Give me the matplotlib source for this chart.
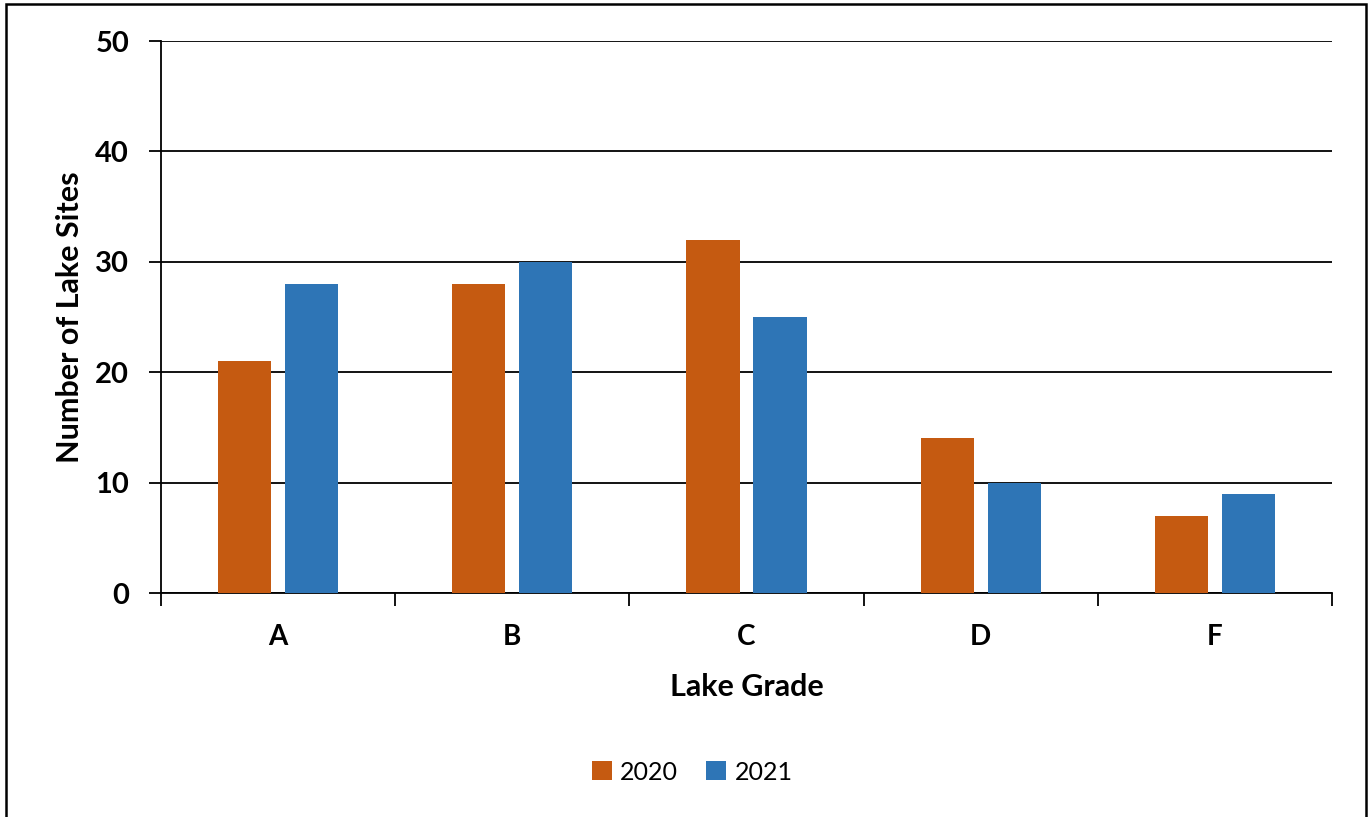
import matplotlib
matplotlib.use("Agg")
import matplotlib.pyplot as plt
import numpy as np
from matplotlib.patches import Rectangle
from matplotlib.ticker import FixedLocator

categories = ["A", "B", "C", "D", "F"]
series_names = ["2020", "2021"]
values_2020 = [21, 28, 32, 14, 7]
values_2021 = [28, 30, 25, 10, 9]
yticks = [0, 10, 20, 30, 40, 50]
colors = ["#C55A11", "#2E75B6"]

plt.rcParams['font.family'] = ['Lato', 'DejaVu Sans']

fig = plt.figure(figsize=(13.69, 8.17), dpi=100)
W, H = 1369, 817
ax = fig.add_axes([161 / W, 1 - 593 / H, (1332 - 161) / W, (593 - 41) / H])

x = np.arange(len(categories))
bw = 0.227
off = 0.143
ax.bar(x - off, values_2020, bw, color=colors[0], label=series_names[0], zorder=3)
ax.bar(x + off, values_2021, bw, color=colors[1], label=series_names[1], zorder=3)

ax.set_xlim(-0.5, len(categories) - 0.5)
ax.set_ylim(0, 50)
ax.set_yticks(yticks)
ax.set_yticklabels([str(v) for v in yticks], fontsize=21, fontweight='bold')
ax.yaxis.grid(True, color='black', linewidth=1.3, zorder=0)
ax.set_axisbelow(True)

ax.set_xticks(x)
ax.set_xticklabels(categories, fontsize=20, fontweight='bold')
ax.tick_params(axis='x', which='major', length=0, pad=22)
ax.xaxis.set_minor_locator(FixedLocator(np.arange(-0.5, len(categories), 1.0)))
ax.tick_params(axis='x', which='minor', length=9, width=1.3, direction='out')
ax.tick_params(axis='y', length=9, width=1.3, direction='out', pad=14)

for s in ['top', 'right']:
    ax.spines[s].set_visible(False)
for s in ['left', 'bottom']:
    ax.spines[s].set_linewidth(1.3)

ax.set_xlabel("Lake Grade", fontsize=22, fontweight='bold', labelpad=17)
ax.set_ylabel("Number of Lake Sites", fontsize=22, fontweight='bold', labelpad=8)

leg = fig.legend(loc='center', bbox_to_anchor=(692 / W, 1 - 772 / H), ncol=2,
                 frameon=False, fontsize=18, handlelength=0.8, handleheight=0.8,
                 columnspacing=1.1, handletextpad=0.35)

fig.patches.append(Rectangle((6 / W, -0.05), (1366 - 6) / W, 1.05 - 4 / H,
                             transform=fig.transFigure, fill=False,
                             edgecolor='black', linewidth=1.8))

fig.savefig("out.png", dpi=100)
